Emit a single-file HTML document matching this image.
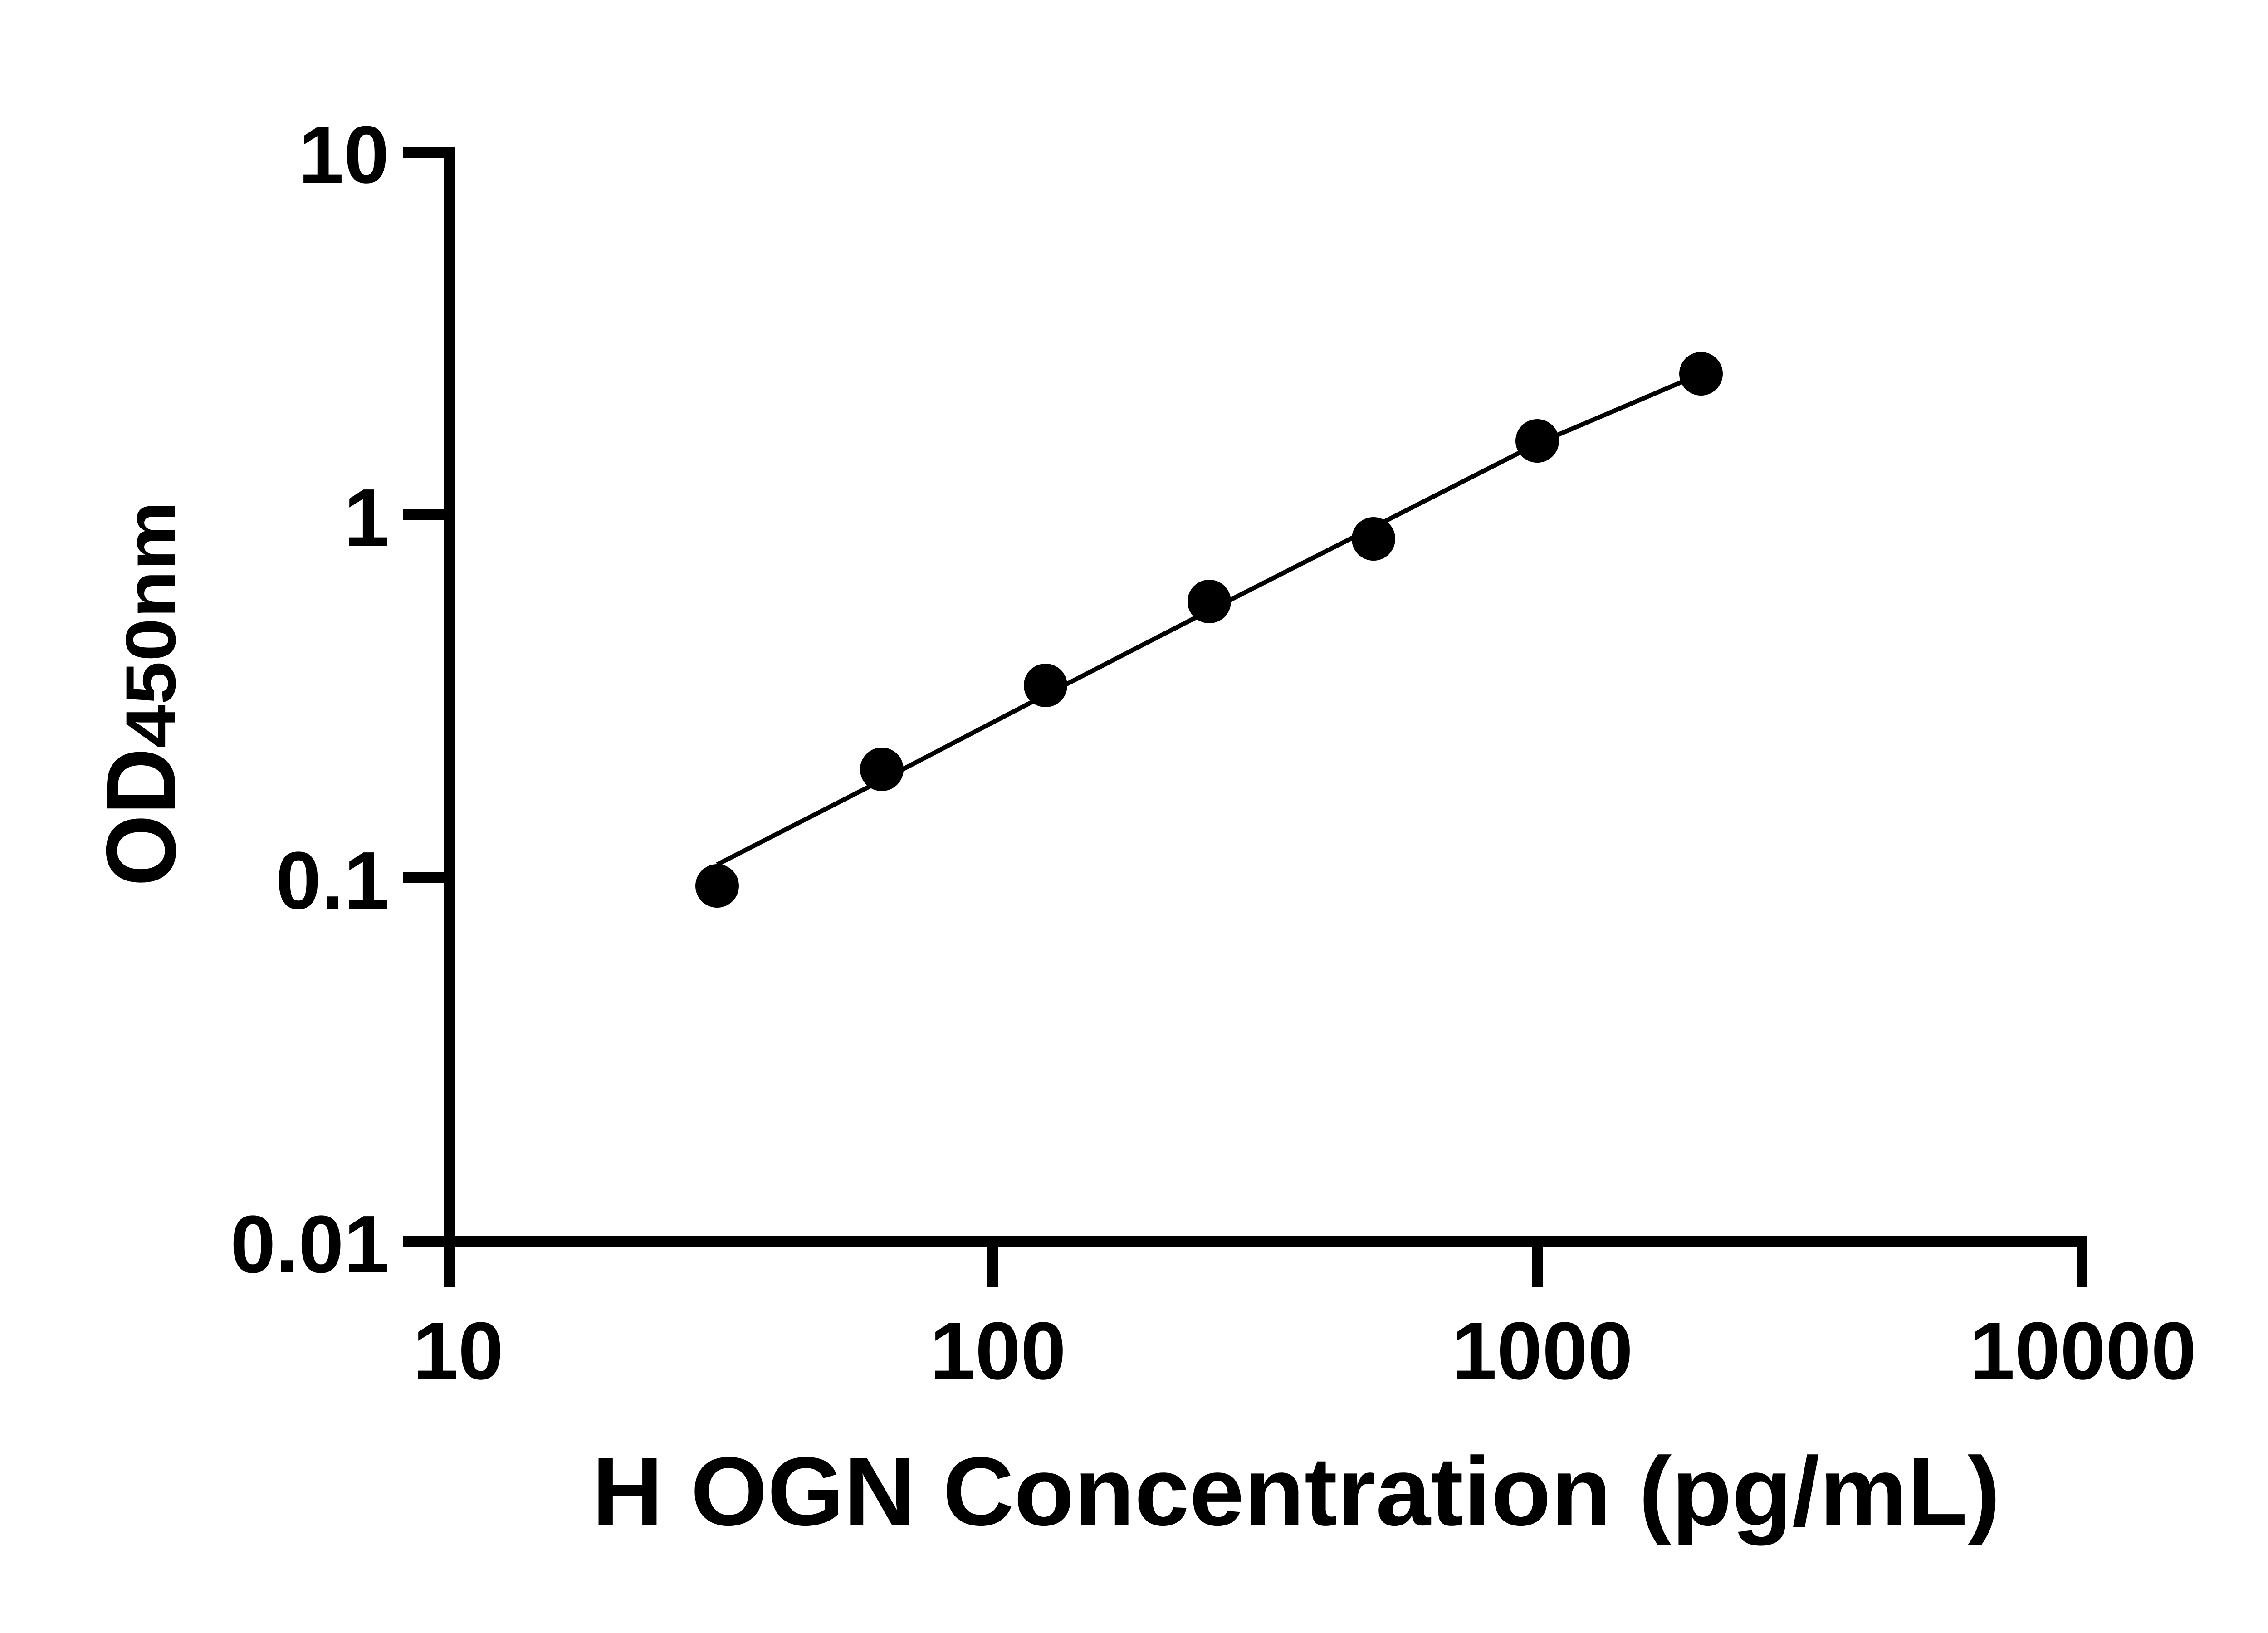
<!DOCTYPE html>
<html><head><meta charset="utf-8"><style>
html,body{margin:0;padding:0;background:#fff;}
svg{display:block;}
text{font-family:"Liberation Sans",Arial,sans-serif;font-weight:bold;fill:#000;}
</style></head><body>
<svg width="5142" height="3600" viewBox="0 0 5142 3600" xmlns="http://www.w3.org/2000/svg">
<rect width="5142" height="3600" fill="#fff"/>
<rect x="978" y="324" width="24" height="2513" fill="#000"/>
<rect x="888" y="2724" width="3714" height="24" fill="#000"/>
<rect x="888" y="324" width="100" height="24" fill="#000"/>
<rect x="888" y="1122" width="100" height="24" fill="#000"/>
<rect x="888" y="1922" width="100" height="24" fill="#000"/>
<rect x="2177" y="2736" width="24" height="101" fill="#000"/>
<rect x="3378" y="2736" width="24" height="101" fill="#000"/>
<rect x="4578" y="2736" width="24" height="101" fill="#000"/>
<g font-size="180" text-anchor="end">
<text x="858" y="403">10</text>
<text x="858" y="1203">1</text>
<text x="858" y="2003">0.1</text>
<text x="858" y="2805">0.01</text>
</g>
<g font-size="180" text-anchor="middle">
<text x="1010" y="3040">10</text>
<text x="2200" y="3040">100</text>
<text x="3400" y="3040">1000</text>
<text x="4592" y="3040">10000</text>
</g>
<polyline points="1581,1906 1944,1720 2305,1532 2666,1346 3028,1162 3389,978 3708,842" fill="none" stroke="#000" stroke-width="10" stroke-linejoin="round"/>
<g fill="#000">
<circle cx="1581" cy="1953" r="48"/>
<circle cx="1944" cy="1696" r="48"/>
<circle cx="2305" cy="1511" r="48"/>
<circle cx="2666" cy="1326" r="48"/>
<circle cx="3028" cy="1188" r="48"/>
<circle cx="3389" cy="972" r="48"/>
<circle cx="3750" cy="824" r="48"/>
</g>
<text x="1305" y="3362" font-size="215" textLength="3105" lengthAdjust="spacingAndGlyphs">H OGN Concentration (pg/mL)</text>
<g transform="translate(386,1954) rotate(-90)">
<text x="0" y="0" font-size="218" textLength="305" lengthAdjust="spacingAndGlyphs">OD</text>
<text x="305" y="0" font-size="156" textLength="544" lengthAdjust="spacingAndGlyphs">450nm</text>
</g>
</svg>
</body></html>
